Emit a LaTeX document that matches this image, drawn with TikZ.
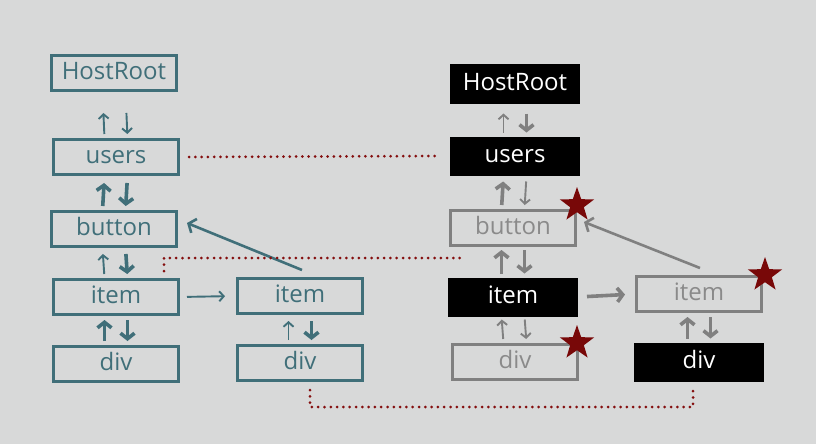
\documentclass[tikz,border=0pt]{standalone}
\usepackage{fontspec}
\setmainfont{Open Sans}
\usepackage{tikz}
\usetikzlibrary{shapes.geometric}
\usetikzlibrary{arrows.meta}
\usetikzlibrary{calc}
\definecolor{fiberbg}{RGB}{216,217,217}
\definecolor{fiberteal}{RGB}{64,111,121}
\definecolor{fibergray}{RGB}{128,128,128}
\definecolor{fibertext}{RGB}{138,138,138}
\definecolor{dotred}{RGB}{132,14,14}
\definecolor{starred}{RGB}{120,8,8}
\tikzset{
  fiber/.style = {rectangle, inner sep=0pt, minimum width=125pt,
    minimum height=35pt, line width=3pt, text height=17pt, text depth=4pt,
    font=\fontsize{24}{27}\selectfont},
  old_node/.style = {fiber, draw=fiberteal, text=fiberteal},% arbre courant
  done_node/.style = {fiber, fill=black, text=white, minimum width=130pt,
    minimum height=39pt, line width=0pt},% noeud fini
  work_node/.style = {fiber, draw=fibergray, text=fibertext},% noeud en cours
  star_mark/.style = {star, star points=5, star point ratio=2.5,
    fill=starred, inner sep=0pt, minimum size=36pt},% effet
  thin_arr/.style = {line width=1.9pt, -{Straight Barb[length=4.5pt,width=10pt]}},
  thick_arr/.style = {line width=3.6pt, -{Straight Barb[length=5.5pt,width=14pt]}},
  link_arr/.style = {line width=2.6pt, -{Straight Barb[length=6pt,width=15pt]}},
  dot_line/.style = {draw=dotred, line width=3pt, line cap=round,
    dash pattern=on 0pt off 6.3pt}
}
\begin{document}
\begin{tikzpicture}[x=1pt, y=-1pt]
    \fill[fiberbg] (0,0) rectangle (816,444);

    % arbre courant
    \node [old_node] (hr)  at (114,73)  {HostRoot};
    \node [old_node] (us)  at (116,157) {users};
    \node [old_node] (bt)  at (114,229) {button};
    \node [old_node] (it)  at (116,297) {item};
    \node [old_node] (dv)  at (116,364) {div};
    \node [old_node] (it2) at (300,296) {item};
    \node [old_node] (dv2) at (300,363) {div};

    % arbre en cours
    \node [done_node] (rhr)  at (515,84)  {HostRoot};
    \node [done_node] (rus)  at (515,156) {users};
    \node [work_node] (rbt)  at (513,228) {button};
    \node [done_node] (rit)  at (513,297) {item};
    \node [work_node] (rdv)  at (515,362) {div};
    \node [work_node] (rit2) at (699,294) {item};
    \node [done_node] (rdv2) at (699,362) {div};

    \foreach \a/\b/\c/\u/\d/\t in {hr/us/fiberteal/thin_arr/thin_arr/21,
        us/bt/fiberteal/thick_arr/thick_arr/7, bt/it/fiberteal/thin_arr/thick_arr/6,
        it/dv/fiberteal/thick_arr/thick_arr/4, it2/dv2/fiberteal/thin_arr/thick_arr/6,
        rhr/rus/fibergray/thin_arr/thick_arr/10, rus/rbt/fibergray/thick_arr/thin_arr/6,
        rbt/rit/fibergray/thick_arr/thick_arr/3, rit/rdv/fibergray/thin_arr/thin_arr/3,
        rit2/rdv2/fibergray/thick_arr/thick_arr/4}
    {
      \draw [\c, \u, shorten <=4pt, shorten >=\t pt]
        ([xshift=-11.5pt]\b.north) -- ([xshift=-11.5pt]\a.south);
      \draw [\c, \d, shorten <=\t pt, shorten >=4pt]
        ([xshift=11.5pt]\a.south) -- ([xshift=11.5pt]\b.north);
    }

    \draw [fiberteal, thin_arr, shorten <=7pt, shorten >=11pt] (it.east) -- (it2.west);
    \draw [fibergray, thick_arr, shorten <=9pt, shorten >=10pt] (rit.east) -- (rit2.west);
    \draw [fiberteal, link_arr] ($(it2.north)+(2,-7)$) -- ($(bt.east)+(9,-6)$);
    \draw [fibergray, link_arr] ($(rit2.north)+(1,-7)$) -- ($(rbt.east)+(7,-6)$);

    \node [star_mark] (s1) at ($(rbt.north east)+(0,-4)$) {};
    \node [star_mark] (s2) at ($(rit2.north east)+(2,0)$) {};
    \node [star_mark] (s3) at ($(rdv.north east)+(-2,0)$) {};

    % alternate
    \coordinate (d2end) at (465,258);
    \coordinate (low) at (500,407);
    \draw [dot_line] ($(us.east)+(9,0)$) -- ($(rus.west)+(-10,0)$);
    \draw [dot_line] ($(it.north)+(48,-7)$) |- (d2end);
    \draw [dot_line] ($(dv2.south)+(10,8)$) |- (low) -| ($(rdv2.south)+(-6,4)$);
  \end{tikzpicture}
\end{document}
